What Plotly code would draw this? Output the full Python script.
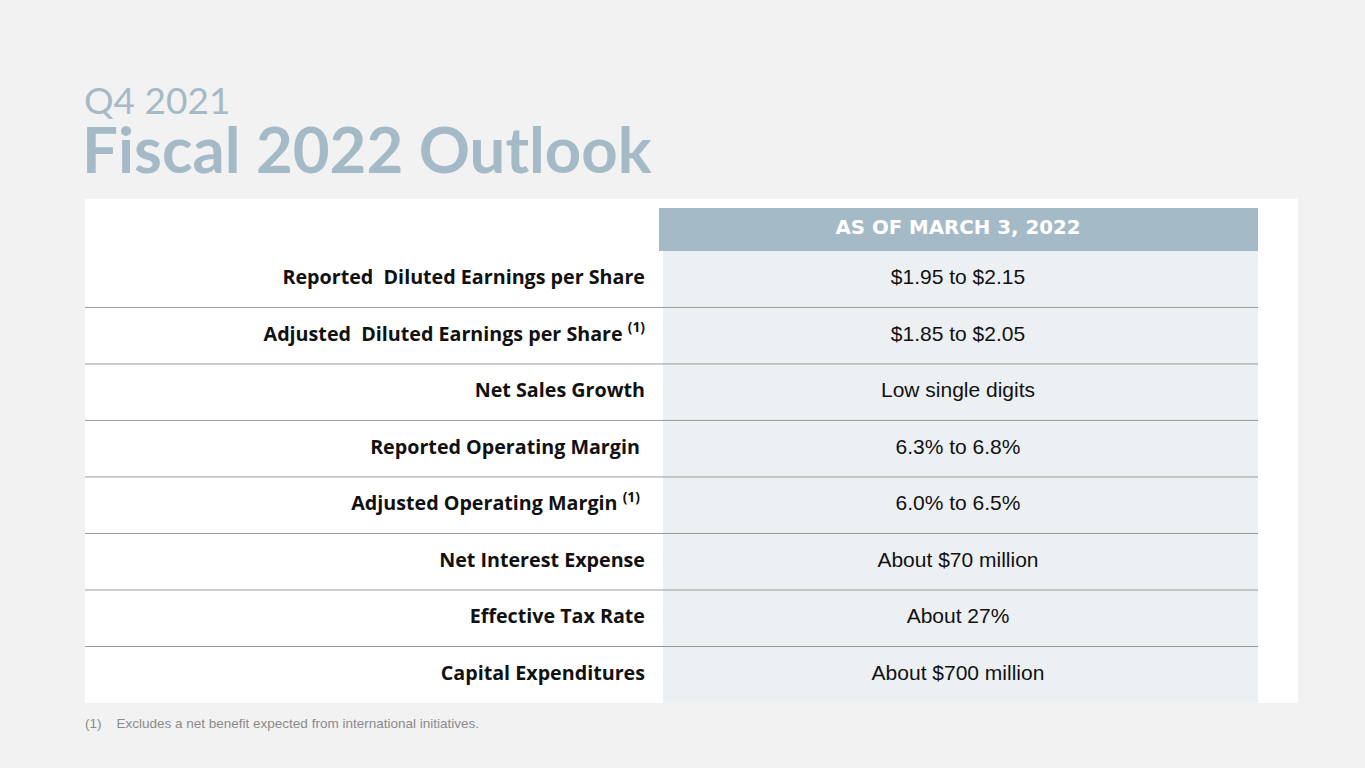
import plotly.graph_objects as go

subtitle = "Q4 2021"
title = "Fiscal 2022 Outlook"
header = "AS OF MARCH 3, 2022"
metrics = [
    "Reported  Diluted Earnings per Share",
    "Adjusted  Diluted Earnings per Share <sup>(1)</sup>",
    "Net Sales Growth",
    "Reported Operating Margin ",
    "Adjusted Operating Margin <sup>(1)</sup> ",
    "Net Interest Expense",
    "Effective Tax Rate",
    "Capital Expenditures",
]
outlook = [
    "$1.95 to $2.15",
    "$1.85 to $2.05",
    "Low single digits",
    "6.3% to 6.8%",
    "6.0% to 6.5%",
    "About $70 million",
    "About 27%",
    "About $700 million",
]
footnote = "(1)    Excludes a net benefit expected from international initiatives."

bg = "#f2f2f2"
steel = "#a5bac7"
cell = "#ecf0f3"
n = len(metrics)
rows = list(range(n))

fig = go.Figure()

# white panel, header bar and value column background
fig.add_shape(type="rect", x0=85, x1=1298, y0=-1.42, y1=n - 0.5,
              fillcolor="white", line_width=0, layer="below")
fig.add_shape(type="rect", x0=663, x1=1258, y0=-0.5, y1=n - 0.5,
              fillcolor=cell, line_width=0, layer="below")
fig.add_shape(type="rect", x0=659, x1=1258, y0=-1.26, y1=-0.5,
              fillcolor=steel, line_width=0, layer="below")

# row separators
for i in rows[:-1]:
    fig.add_shape(type="line", x0=85, x1=1258, y0=i + 0.5, y1=i + 0.5,
                  line=dict(color="#9a9a9a", width=1))

fig.add_trace(go.Scatter(
    x=[645] * n, y=rows, text=metrics, mode="text",
    textposition="middle left",
    textfont=dict(family="Open Sans", size=19.7, color="#111111", weight="bold"),
    hoverinfo="skip", showlegend=False))
fig.add_trace(go.Scatter(
    x=[958] * n, y=rows, text=outlook, mode="text",
    textposition="middle center",
    textfont=dict(family="Liberation Sans", size=21, color="#111111"),
    hoverinfo="skip", showlegend=False))
fig.add_trace(go.Scatter(
    x=[958], y=[-0.88], text=[header], mode="text",
    textposition="middle center",
    textfont=dict(family="DejaVu Sans", size=19.8, color="white", weight="bold"),
    hoverinfo="skip", showlegend=False))

fig.add_annotation(xref="paper", yref="paper", x=82 / 1365, y=1 - 99 / 768,
                   text=subtitle, showarrow=False, xanchor="left", yanchor="middle",
                   font=dict(family="Lato", size=37, color=steel))
fig.add_annotation(xref="paper", yref="paper", x=80 / 1365, y=1 - 149 / 768,
                   text="<b>" + title + "</b>", showarrow=False, xanchor="left", yanchor="middle",
                   font=dict(family="Lato", size=63.5, color=steel))
fig.add_annotation(xref="paper", yref="paper", x=83 / 1365, y=1 - 723 / 768,
                   text=footnote, showarrow=False, xanchor="left", yanchor="middle",
                   font=dict(family="Liberation Sans", size=13.5, color="#8a8a8a"))

fig.update_xaxes(range=[0, 1365], visible=False, fixedrange=True)
fig.update_yaxes(range=[8.65, -4.94], visible=False, fixedrange=True)
fig.update_layout(width=1365, height=768, margin=dict(l=0, r=0, t=0, b=0),
                  paper_bgcolor=bg, plot_bgcolor=bg)

fig.write_html("out.html", config={"displayModeBar": False},
               post_script="document.body.style.margin='0';document.body.style.overflow='hidden';")
